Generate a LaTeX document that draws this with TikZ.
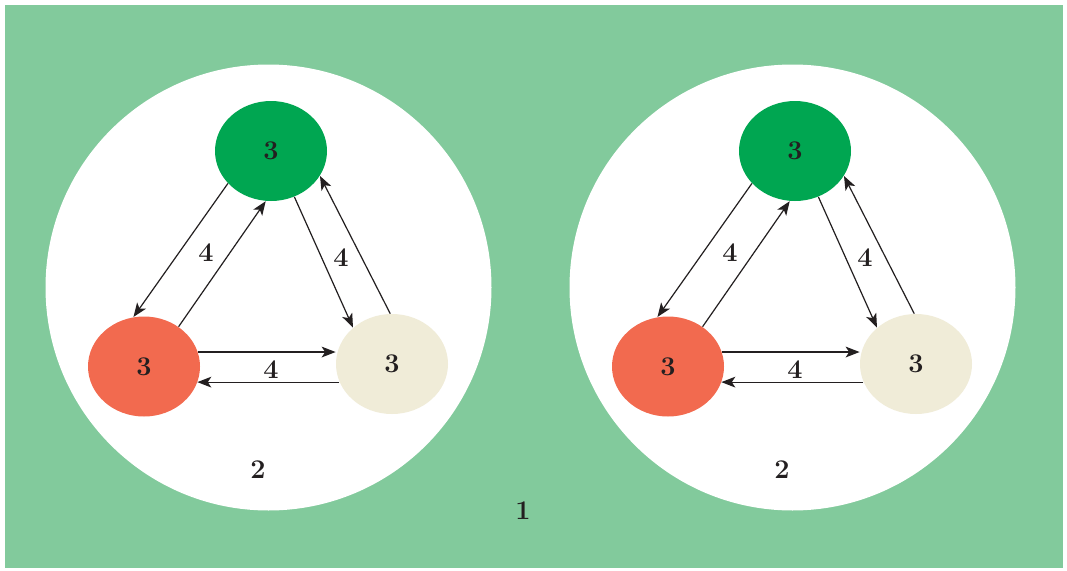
\documentclass[tikz,border=0pt]{standalone}
\usetikzlibrary{arrows.meta,shapes.geometric}
\definecolor{bggreen}{HTML}{82CA9C}
\definecolor{topgreen}{HTML}{00A651}
\definecolor{coral}{HTML}{F26A4F}
\definecolor{cream}{HTML}{F0ECD8}
\definecolor{ink}{HTML}{231F20}
\begin{document}
\begin{tikzpicture}[x=0.5pt,y=0.5pt,>={Stealth[length=7pt,width=5.4pt,inset=1.8pt]},
  state/.style={ellipse,minimum width=56pt,minimum height=50pt,inner sep=0pt,text=ink},
  num/.style={text=ink,font=\fontsize{13.5}{16}\selectfont\bfseries},
  link/.style={->,draw=ink,line width=0.6pt}]
\useasboundingbox (0,0) rectangle (1067,570);
\fill[bggreen] (5,2) rectangle (1063,565);
\node[num] (one) at (523,59) {1};
\foreach \i/\dx in {l/0,r/524}{
  \begin{scope}[xshift=\dx*0.5pt]
  \fill[white] (268.5,282.5) circle (223);
  \node[state,fill=topgreen,num] (g\i) at (271,419) {3};
  \node[state,fill=coral,num] (r\i) at (144,203.5) {3};
  \node[state,fill=cream,num] (c\i) at (392,206) {3};
  \node[num] (two\i) at (258,100) {2};
  % connectors
  \draw[link] (g\i.217) -- (r\i.102);
  \draw[link] (r\i.49) -- (g\i.264);
  \draw[link] (g\i.297) -- (c\i.137);
  \draw[link] (c\i.92) -- (g\i.333);
  \draw[link] (r\i.15) -- (r\i.15 -| c\i.west);
  \draw[link] (c\i.199) -- (c\i.199 -| r\i.343);
  \node[num] at (206,317) {4};
  \node[num] at (341,312) {4};
  \node[num] at (271,200) {4};
  \end{scope}
}
\end{tikzpicture}
\end{document}
